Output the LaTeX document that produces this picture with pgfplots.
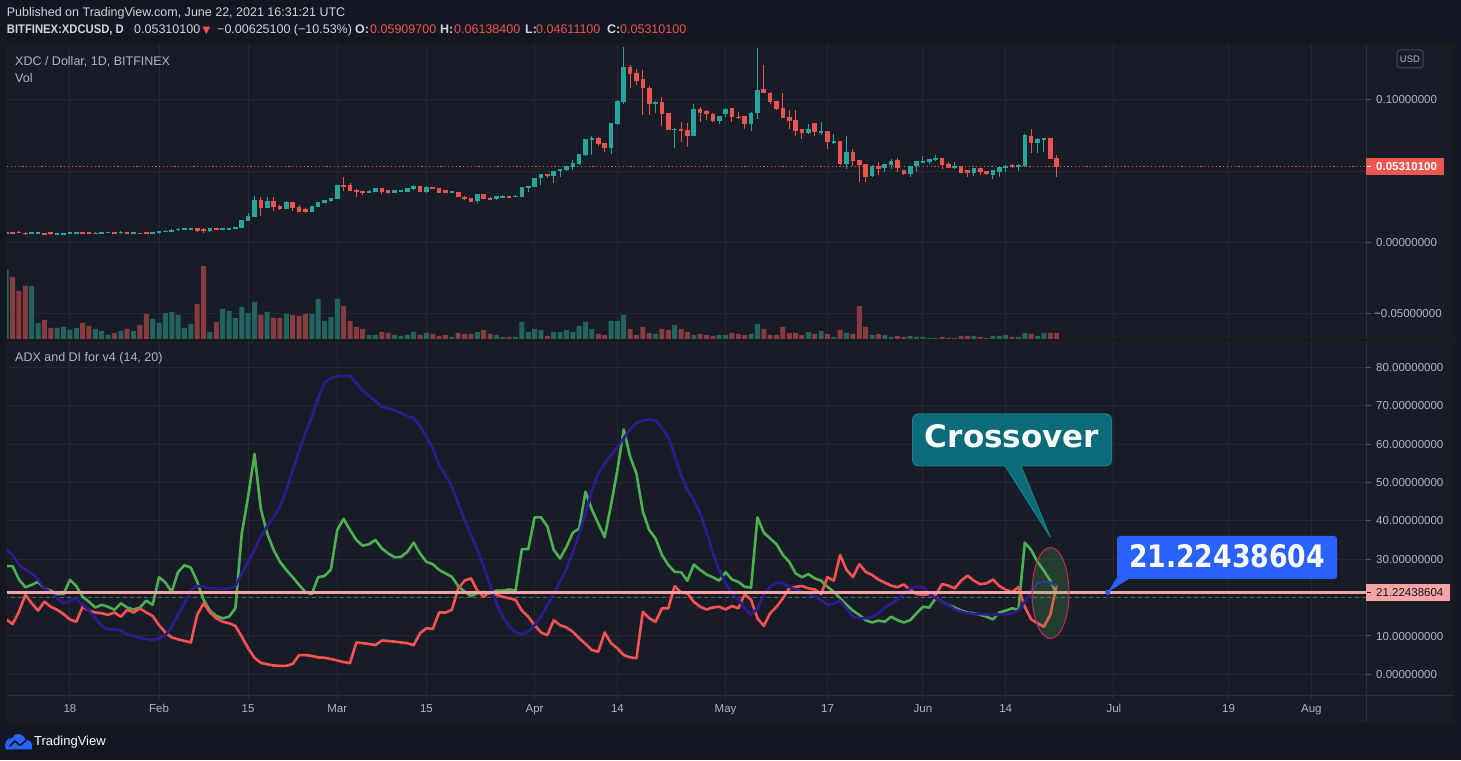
\documentclass[border=0pt]{standalone}
\usepackage{pgfplots}
\pgfplotsset{compat=1.18}
\usepackage{pgfplotstable}
\usepackage{fontspec}
\setmainfont{Liberation Sans}
\newfontfamily\dejavu{DejaVu Sans}
\usetikzlibrary{calc}

\definecolor{bgout}{HTML}{131722}
\definecolor{bgin}{HTML}{181C27}
\definecolor{gridc}{HTML}{242833}
\definecolor{sepc}{HTML}{2A2E39}
\definecolor{labc}{HTML}{B2B5BE}
\definecolor{headc}{HTML}{D1D4DC}
\definecolor{upc}{HTML}{26A69A}
\definecolor{dnc}{HTML}{EF5350}
\definecolor{volup}{HTML}{22635F}
\definecolor{voldn}{HTML}{863B3E}
\definecolor{pdic}{HTML}{4CAF50}
\definecolor{mdic}{HTML}{FF5252}
\definecolor{adxc}{HTML}{2E1A91}
\definecolor{pinkc}{HTML}{F5A3A3}
\definecolor{tvblue}{HTML}{2962FF}
\definecolor{callc}{HTML}{0B6B78}
\definecolor{callb}{HTML}{17808C}
\definecolor{redlab}{HTML}{F05650}
\definecolor{ellb}{HTML}{C8285A}

\pgfplotstableread{
d o h l c v
7 0.0066 0.0070 0.0063 0.0068 70
11 0.0058 0.0072 0.0056 0.0070 54
12 0.0067 0.0072 0.0063 0.0068 17
15 0.0056 0.0065 0.0054 0.0063 12
16 0.0058 0.0067 0.0056 0.0065 13
17 0.0063 0.0075 0.0061 0.0072 10
18 0.0065 0.0072 0.0063 0.0070 12
21 0.0061 0.0070 0.0058 0.0068 11
22 0.0065 0.0075 0.0063 0.0072 9
23 0.0069 0.0072 0.0067 0.0070 5
25 0.0063 0.0077 0.0061 0.0075 9
27 0.0063 0.0070 0.0061 0.0068 9
30 0.0063 0.0072 0.0061 0.0070 21
31 0.0063 0.0082 0.0061 0.0079 17
32 0.0072 0.0084 0.0070 0.0082 27
33 0.0075 0.0091 0.0072 0.0089 28
34 0.0084 0.0098 0.0082 0.0096 25
35 0.0091 0.0100 0.0089 0.0098 12
36 0.0093 0.0100 0.0091 0.0098 16
39 0.0077 0.0100 0.0075 0.0098 8
41 0.0086 0.0100 0.0084 0.0098 31
42 0.0091 0.0100 0.0089 0.0098 29
43 0.0096 0.0107 0.0093 0.0105 22
44 0.0103 0.0158 0.0100 0.0156 33
45 0.0149 0.0207 0.0147 0.0184 27
46 0.0179 0.0324 0.0177 0.0296 38
48 0.0242 0.0319 0.0240 0.0289 28
51 0.0233 0.0289 0.0231 0.0282 26
55 0.0214 0.0256 0.0212 0.0254 26
56 0.0249 0.0284 0.0247 0.0282 41
57 0.0277 0.0298 0.0275 0.0296 19
58 0.0287 0.0312 0.0284 0.0310 23
59 0.0303 0.0403 0.0301 0.0401 41
64 0.0347 0.0364 0.0345 0.0361 5
65 0.0354 0.0380 0.0352 0.0378 5
68 0.0347 0.0366 0.0345 0.0364 5
69 0.0359 0.0368 0.0357 0.0366 4
70 0.0354 0.0380 0.0352 0.0378 5
71 0.0371 0.0401 0.0368 0.0396 8
73 0.0354 0.0392 0.0343 0.0389 7
77 0.0350 0.0361 0.0347 0.0357 3
81 0.0291 0.0340 0.0277 0.0338 8
84 0.0301 0.0326 0.0298 0.0324 5
85 0.0315 0.0329 0.0312 0.0326 3
87 0.0319 0.0331 0.0317 0.0326 3
88 0.0319 0.0389 0.0317 0.0387 18
89 0.0387 0.0394 0.0354 0.0392 8
90 0.0389 0.0452 0.0387 0.0450 11
91 0.0452 0.0478 0.0401 0.0476 10
93 0.0466 0.0501 0.0417 0.0499 8
94 0.0499 0.0515 0.0459 0.0513 8
95 0.0506 0.0536 0.0503 0.0534 10
96 0.0529 0.0580 0.0510 0.0555 8
97 0.0548 0.0620 0.0545 0.0618 14
98 0.0611 0.0725 0.0608 0.0723 18
99 0.0716 0.0748 0.0611 0.0734 11
102 0.0662 0.0837 0.0620 0.0834 19
103 0.0828 0.0998 0.0825 0.0995 19
104 0.0988 0.1368 0.0972 0.1233 25
109 0.0970 0.0995 0.0907 0.0988 6
112 0.0790 0.0804 0.0662 0.0795 15
115 0.0746 0.0972 0.0743 0.0932 5
119 0.0851 0.0888 0.0832 0.0886 5
120 0.0900 0.0942 0.0879 0.0932 5
124 0.0830 0.0911 0.0781 0.0909 6
125 0.0907 0.1366 0.0865 0.1072 16
133 0.0767 0.0828 0.0760 0.0793 8
135 0.0774 0.0841 0.0751 0.0779 9
137 0.0702 0.0762 0.0690 0.0711 3
139 0.0548 0.0744 0.0515 0.0632 7
143 0.0464 0.0545 0.0459 0.0534 5
145 0.0522 0.0550 0.0494 0.0548 5
146 0.0543 0.0587 0.0517 0.0573 3
149 0.0480 0.0538 0.0459 0.0536 4
150 0.0536 0.0573 0.0494 0.0569 3
151 0.0564 0.0604 0.0562 0.0566 3
152 0.0564 0.0585 0.0550 0.0583 2
153 0.0580 0.0615 0.0571 0.0592 2
156 0.0522 0.0562 0.0513 0.0536 2
159 0.0487 0.0522 0.0466 0.0520 4
162 0.0473 0.0506 0.0445 0.0504 4
163 0.0492 0.0531 0.0459 0.0529 4
164 0.0524 0.0541 0.0494 0.0538 5
166 0.0529 0.0548 0.0501 0.0545 3
167 0.0534 0.0762 0.0531 0.0751 7
169 0.0697 0.0734 0.0627 0.0725 4
170 0.0718 0.0734 0.0634 0.0730 7
}\upData

\pgfplotstableread{
d o h l c v
8 0.0070 0.0072 0.0063 0.0065 63
9 0.0075 0.0077 0.0066 0.0068 49
10 0.0068 0.0070 0.0054 0.0056 54
13 0.0065 0.0067 0.0051 0.0058 20
14 0.0070 0.0072 0.0054 0.0056 12
19 0.0070 0.0072 0.0056 0.0063 17
20 0.0068 0.0070 0.0061 0.0063 14
24 0.0072 0.0075 0.0063 0.0065 7
26 0.0072 0.0075 0.0058 0.0061 11
28 0.0065 0.0068 0.0061 0.0063 15
29 0.0068 0.0070 0.0061 0.0063 26
37 0.0098 0.0100 0.0070 0.0079 36
38 0.0096 0.0098 0.0068 0.0079 74
40 0.0100 0.0103 0.0084 0.0086 18
47 0.0296 0.0319 0.0186 0.0242 25
49 0.0289 0.0315 0.0221 0.0249 22
50 0.0256 0.0261 0.0228 0.0233 22
52 0.0280 0.0282 0.0221 0.0242 25
53 0.0249 0.0259 0.0210 0.0214 24
54 0.0231 0.0238 0.0203 0.0210 26
60 0.0401 0.0457 0.0361 0.0389 34
61 0.0401 0.0413 0.0359 0.0361 19
62 0.0366 0.0371 0.0319 0.0354 13
63 0.0359 0.0361 0.0329 0.0350 11
66 0.0378 0.0380 0.0340 0.0350 8
67 0.0364 0.0366 0.0340 0.0343 7
72 0.0394 0.0396 0.0352 0.0354 5
74 0.0387 0.0389 0.0373 0.0375 6
75 0.0378 0.0380 0.0345 0.0347 4
76 0.0366 0.0368 0.0345 0.0347 5
78 0.0350 0.0352 0.0317 0.0319 7
79 0.0319 0.0322 0.0298 0.0301 6
80 0.0308 0.0310 0.0282 0.0284 6
82 0.0338 0.0340 0.0303 0.0305 10
83 0.0312 0.0315 0.0294 0.0296 6
86 0.0322 0.0324 0.0312 0.0317 3
92 0.0478 0.0480 0.0448 0.0469 4
100 0.0734 0.0736 0.0676 0.0690 6
101 0.0697 0.0699 0.0636 0.0662 5
105 0.1233 0.1247 0.1082 0.1179 11
106 0.1186 0.1219 0.1105 0.1131 5
107 0.1149 0.1212 0.0893 0.1082 13
108 0.1086 0.1100 0.0893 0.0967 7
110 0.0988 0.1023 0.0814 0.0900 11
111 0.0904 0.0907 0.0785 0.0788 10
113 0.0795 0.0841 0.0704 0.0779 11
114 0.0788 0.0834 0.0669 0.0746 8
116 0.0932 0.0949 0.0844 0.0907 6
117 0.0921 0.0930 0.0860 0.0900 5
118 0.0902 0.0904 0.0844 0.0851 4
121 0.0939 0.0942 0.0844 0.0879 7
122 0.0881 0.0911 0.0865 0.0876 6
123 0.0883 0.0886 0.0797 0.0830 5
126 0.1079 0.1247 0.1045 0.1047 11
127 0.1051 0.1053 0.0972 0.0984 5
128 0.0993 0.0995 0.0930 0.0932 5
129 0.0939 0.1047 0.0870 0.0872 13
130 0.0876 0.0925 0.0797 0.0848 7
131 0.0855 0.0925 0.0746 0.0781 7
132 0.0793 0.0795 0.0725 0.0767 5
134 0.0834 0.0837 0.0746 0.0774 6
136 0.0779 0.0781 0.0657 0.0704 6
138 0.0709 0.0711 0.0545 0.0548 10
140 0.0632 0.0653 0.0536 0.0571 6
141 0.0576 0.0578 0.0420 0.0543 34
142 0.0548 0.0550 0.0420 0.0457 13
144 0.0536 0.0562 0.0471 0.0515 6
147 0.0576 0.0590 0.0494 0.0522 4
148 0.0506 0.0508 0.0471 0.0478 3
154 0.0592 0.0594 0.0513 0.0543 3
155 0.0548 0.0562 0.0520 0.0522 2
157 0.0534 0.0536 0.0485 0.0487 4
158 0.0506 0.0508 0.0459 0.0487 4
160 0.0520 0.0522 0.0473 0.0492 3
161 0.0499 0.0501 0.0469 0.0480 2
165 0.0541 0.0552 0.0522 0.0529 3
168 0.0744 0.0797 0.0627 0.0697 6
171 0.0730 0.0732 0.0583 0.0587 7
172 0.0591 0.0614 0.0461 0.0531 7
}\dnData

\pgfplotstableread{
d pdi mdi adx
7 28.2 14.3 32.6
8 28.2 13.1 31.1
9 24.7 16.3 28.5
10 22.7 20.7 27.3
11 23.3 18.5 26.3
12 24.1 16.6 24.7
13 22.4 18.9 22.4
14 21.8 17.6 21.3
15 20.9 16.8 19.8
16 20.9 15.7 18.5
17 24.6 14.3 19.2
18 23.0 13.7 19.8
19 20.2 17.6 18.1
20 18.9 16.6 16.6
21 17.4 16.1 14.6
22 18.1 15.9 12.6
23 17.6 15.5 11.7
24 16.8 16.1 11.7
25 18.5 15.0 11.5
26 17.4 16.8 10.4
27 16.9 16.1 10.0
28 17.4 17.2 9.5
29 19.2 16.1 9.2
30 18.1 15.2 8.9
31 25.3 12.8 9.4
32 23.9 10.9 10.2
33 21.5 9.6 12.4
34 26.7 9.1 15.5
35 28.4 8.7 18.5
36 27.8 8.3 22.0
37 24.1 15.5 23.0
38 19.4 18.5 22.8
39 16.6 16.1 22.4
40 15.2 14.6 22.3
41 14.6 13.7 22.2
42 15.0 13.3 22.4
43 17.2 12.6 23.0
44 36.7 9.8 26.3
45 46.3 6.8 29.3
46 57.4 4.3 32.4
47 43.0 3.0 35.9
48 36.7 2.6 38.6
49 32.4 2.3 41.1
50 29.3 2.2 43.7
51 27.2 2.2 48.0
52 25.3 2.7 53.2
53 23.3 5.0 58.0
54 21.4 5.0 62.8
55 20.9 4.8 67.1
56 25.3 4.4 71.9
57 25.6 4.3 76.0
58 27.3 4.0 77.1
59 37.6 3.6 77.7
60 40.5 3.2 77.7
61 37.6 2.9 77.8
62 35.0 8.3 75.8
63 33.5 8.1 74.0
64 33.9 7.9 72.5
65 35.0 7.6 71.2
66 32.8 8.8 69.7
67 31.5 8.7 69.3
68 30.5 8.5 68.8
69 30.6 8.3 68.1
70 31.9 8.1 67.3
71 34.3 7.6 66.7
72 31.5 10.7 64.7
73 29.3 12.0 61.9
74 28.7 11.8 58.9
75 27.2 16.1 54.5
76 26.3 16.1 51.9
77 25.4 16.8 48.9
78 23.0 22.4 44.5
79 21.5 24.4 40.2
80 20.4 25.0 36.3
81 21.1 21.8 32.4
82 21.5 20.2 28.0
83 21.1 21.5 23.3
84 21.8 20.7 18.5
85 21.8 20.2 15.0
86 22.1 19.8 12.5
87 21.8 19.4 10.9
88 32.6 16.6 10.5
89 32.6 15.0 11.1
90 40.9 12.8 12.8
91 40.9 10.9 15.0
92 38.5 10.2 18.1
93 32.4 14.1 21.1
94 30.2 12.8 24.1
95 33.2 12.2 27.6
96 36.9 11.1 31.7
97 38.0 9.4 36.7
98 47.6 7.9 41.9
99 42.9 6.3 48.0
100 39.3 5.9 52.3
101 35.7 10.9 54.9
102 44.1 8.1 57.1
103 53.2 6.8 59.3
104 63.8 5.0 61.5
105 56.7 4.4 63.8
106 52.3 4.2 65.5
107 42.4 16.3 66.1
108 37.6 14.6 66.4
109 35.4 13.7 66.2
110 31.1 17.2 64.3
111 28.5 17.2 61.7
112 26.7 23.0 57.1
113 26.6 21.3 51.9
114 24.4 21.1 48.0
115 28.6 18.9 45.4
116 27.2 17.6 41.9
117 26.0 16.9 37.2
118 25.3 17.4 31.5
119 24.4 17.6 27.2
120 26.6 16.9 23.7
121 24.7 17.8 21.1
122 24.1 17.2 19.4
123 22.8 20.9 17.2
124 22.6 19.4 15.5
125 40.9 14.6 17.2
126 36.9 12.6 20.7
127 35.4 15.9 22.8
128 33.9 17.6 23.9
129 31.1 19.8 23.7
130 29.3 22.4 22.8
131 26.3 22.8 22.1
132 25.3 23.0 21.5
133 26.1 22.4 20.9
134 25.0 22.1 20.2
135 24.4 20.9 19.4
136 22.8 25.3 18.1
137 21.5 24.4 18.4
138 19.8 31.1 19.2
139 18.1 27.2 17.2
140 16.6 25.3 15.0
141 15.5 28.7 14.6
142 14.1 26.7 14.6
143 13.5 25.9 15.0
144 14.0 24.7 15.9
145 13.7 23.9 17.4
146 15.0 23.1 18.4
147 14.1 22.7 19.5
148 13.5 23.4 21.1
149 14.1 22.0 22.4
150 15.9 20.9 22.8
151 17.6 20.7 22.7
152 17.4 20.9 21.1
153 19.8 20.7 19.8
154 18.9 23.5 18.9
155 18.1 23.1 18.1
156 17.4 22.4 16.9
157 16.6 24.4 16.3
158 16.1 25.7 15.9
159 15.9 24.4 15.7
160 15.5 23.5 15.7
161 15.0 23.7 15.6
162 14.3 24.7 15.5
163 16.1 23.0 15.6
164 16.6 22.0 15.7
165 17.2 21.4 15.9
166 16.8 22.7 16.6
167 34.3 17.6 18.9
168 32.4 14.3 21.5
169 29.3 13.3 23.7
170 27.0 12.4 24.1
171 24.4 15.5 23.9
172 20.9 23.3 23.0
}\adxData

\pgfplotsset{
  tvaxis/.style={scale only axis, width=1359pt, xmin=7.12, xmax=220.6,
    anchor=south west, axis line style={draw=none}, major tick length=0pt,
    xticklabels={}, yticklabels={}, clip=true},
}

\begin{document}
\begin{tikzpicture}[x=1pt,y=1pt]
\path[use as bounding box] (0pt,0pt) rectangle (1461pt,760pt);
\fill[bgout] (0,0) rectangle (1461,760);
\fill[bgin] (6.5,37) rectangle (1455,717);

% ---------- price pane: grid ----------
\begin{axis}[tvaxis, at={(7pt,420pt)}, height=297pt, ymin=-0.06856, ymax=0.13986,
  xtick={17,31,45,59,73,90,103,120,136,151,164,181,199,212},
  ytick={-0.05,0,0.05,0.1}, grid=major, major grid style={gridc, line width=1pt}]
\addplot[dnc, dash pattern=on 1.2pt off 2.6pt, line width=1.1pt] coordinates {(0,0.05310) (230,0.05310)};
\end{axis}

% ---------- volume ----------
\begin{axis}[tvaxis, at={(7pt,420pt)}, height=297pt, ymin=0, ymax=297, xtick=\empty, ytick=\empty]
\addplot[ybar, bar shift=0pt, bar width=5pt, fill=volup, draw=none] table[x=d,y=v]{\upData};
\addplot[ybar, bar shift=0pt, bar width=5pt, fill=voldn, draw=none] table[x=d,y=v]{\dnData};
\end{axis}

% ---------- candles ----------
\begin{axis}[tvaxis, at={(7pt,420pt)}, height=297pt, ymin=-0.06856, ymax=0.13986, xtick=\empty, ytick=\empty]
\addplot[draw=none, mark=none, error bars/.cd, y dir=both, y explicit, error mark=none,
  error bar style={draw=upc, line width=1pt}]
  table[x=d, y expr={(\thisrow{h}+\thisrow{l})/2}, y error expr={(\thisrow{h}-\thisrow{l})/2}]{\upData};
\addplot[draw=none, mark=none, error bars/.cd, y dir=both, y explicit, error mark=none,
  error bar style={draw=dnc, line width=1pt}]
  table[x=d, y expr={(\thisrow{h}+\thisrow{l})/2}, y error expr={(\thisrow{h}-\thisrow{l})/2}]{\dnData};
\addplot[draw=none, mark=none, error bars/.cd, y dir=both, y explicit, error mark=none,
  error bar style={draw=upc, line width=4.6pt}]
  table[x=d, y expr={(\thisrow{o}+\thisrow{c})/2}, y error expr={max(abs(\thisrow{c}-\thisrow{o})/2,0.00035)}]{\upData};
\addplot[draw=none, mark=none, error bars/.cd, y dir=both, y explicit, error mark=none,
  error bar style={draw=dnc, line width=4.6pt}]
  table[x=d, y expr={(\thisrow{o}+\thisrow{c})/2}, y error expr={max(abs(\thisrow{c}-\thisrow{o})/2,0.00035)}]{\dnData};
\end{axis}

% ---------- ADX pane ----------
\begin{axis}[tvaxis, at={(7pt,64.3pt)}, height=354.7pt, ymin=-5.577, ymax=86.85,
  xtick={17,31,45,59,73,90,103,120,136,151,164,181,199,212},
  ytick={0,10,20,30,40,50,60,70,80}, grid=major, major grid style={gridc, line width=1pt}]
\addplot[color=labc!45!bgin, dash pattern=on 4pt off 3pt, line width=1pt] coordinates {(0,20) (230,20)};
\addplot[pdic, line width=2.6pt, line join=round] table[x=d,y=pdi]{\adxData};
\addplot[mdic, line width=2.6pt, line join=round] table[x=d,y=mdi]{\adxData};
\addplot[adxc, line width=2.6pt, line join=round] table[x=d,y=adx]{\adxData};
\addplot[pinkc, line width=3pt] coordinates {(0,21.2244) (230,21.2244)};
\end{axis}

% ---------- frame and separators ----------
\draw[sepc, line width=1pt] (1366,37) -- (1366,717);
\draw[sepc, line width=1pt] (6.5,64.3) -- (1455,64.3);
\draw[black!90, line width=1.5pt] (6.5,420) -- (1455,420);
\draw[black!90, line width=1.5pt] (6.5,37) rectangle (1455,717);
\foreach \x in {69.9,159.0,248.1,337.3,426.4,534.6,617.4,725.6,827.5,922.9,1005.7,1113.9,1228.5,1311.3}
  \draw[sepc, line width=1pt] (\x,64.3) -- (\x,60.5);

% ---------- time labels ----------
\foreach \x/\t in {69.9/18,159.0/Feb,248.1/15,337.3/Mar,426.4/15,534.6/Apr,617.4/14,725.6/May,827.5/17,922.9/Jun,1005.7/14,1113.9/Jul,1228.5/19,1311.3/Aug}
  \node[anchor=base, text=labc, inner sep=0, font=\fontsize{11.5}{13}\selectfont] at (\x,47.3) {\t};

% ---------- header ----------
\node[anchor=base west, text=headc, inner sep=0, font=\fontsize{12.5}{14}\selectfont] at (6.7,743.3)
  {Published on TradingView.com, June 22, 2021 16:31:21 UTC};
\begin{scope}[every node/.style={anchor=base west, inner sep=0, font=\fontsize{12.5}{14}\selectfont}]
\node[text=headc, font=\fontsize{12.5}{14}\selectfont\bfseries] at (6.7,726.7) {\scalebox{0.9}[1]{BITFINEX:XDCUSD, D}};
\node[text=headc] at (134,726.7) {0.05310100};
\node[text=dnc, font=\fontsize{10}{12}\dejavu] at (202.5,726.9) {▼};
\node[text=headc] at (217,726.7) {−0.00625100 (−10.53\%)};
\node[text=headc, font=\fontsize{12.5}{14}\selectfont\bfseries] at (355,726.7) {O:};
\node[text=dnc] at (370,726.7) {0.05909700};
\node[text=headc, font=\fontsize{12.5}{14}\selectfont\bfseries] at (440,726.7) {H:};
\node[text=dnc] at (454,726.7) {0.06138400};
\node[text=headc, font=\fontsize{12.5}{14}\selectfont\bfseries] at (525,726.7) {L:};
\node[text=dnc] at (536,726.7) {0.04611100};
\node[text=headc, font=\fontsize{12.5}{14}\selectfont\bfseries] at (607,726.7) {C:};
\node[text=dnc] at (620,726.7) {0.05310100};
\end{scope}

% ---------- pane titles ----------
\begin{scope}[every node/.style={anchor=base west, inner sep=0, text=labc, font=\fontsize{12.5}{14}\selectfont}]
\node at (15,694.3) {XDC / Dollar, 1D, BITFINEX};
\node at (15,677.7) {Vol};
\node at (15,398.7) {ADX and DI for v4 (14, 20)};
\end{scope}

% ---------- right scale ----------
\begin{scope}[every node/.style={anchor=base west, inner sep=0, text=labc, font=\fontsize{11.5}{13}\selectfont}]
\node at (1376,656.5) {0.10000000};
\node at (1376,513.5) {0.00000000};
\node at (1374,442.5) {−0.05000000};
\foreach \y in {80,70,60,50,40,30,10,0}
  \node at (1376,{81.5+3.8375*\y}) {\y.00000000};
\end{scope}
\foreach \y in {660.7,517.7,446.7}
  \draw[sepc!70!labc, line width=1pt] (1366,\y) -- (1371,\y);
\foreach \y in {80,70,60,50,40,30,10,0}
  \draw[sepc!70!labc, line width=1pt] (1366,{85.7+3.8375*\y}) -- (1371,{85.7+3.8375*\y});
\draw[sepc!80!labc, rounded corners=3pt, line width=1pt] (1397,692) rectangle (1423,710);
\node[text=labc, inner sep=0, font=\fontsize{9.5}{11}\selectfont] at (1410,701) {USD};
\fill[redlab] (1366,585) rectangle (1444,601.7);
\draw[white, line width=1pt] (1367,593.4) -- (1371,593.4);
\node[anchor=base west, inner sep=0, text=white, font=\fontsize{11.5}{13}\selectfont\bfseries] at (1376,589.1) {0.05310100};
\fill[pinkc] (1366,159.3) rectangle (1450,175.7);
\draw[bgout, line width=1pt] (1367,167.5) -- (1371,167.5);
\node[anchor=base west, inner sep=0, text=bgout, font=\fontsize{11.5}{13}\selectfont] at (1376,163.3) {21.22438604};

% ---------- annotations ----------
\filldraw[fill=pdic, fill opacity=0.22, draw=ellb, line width=1pt] (1050.5,167) ellipse [x radius=18.5, y radius=45.5];
\filldraw[fill=callc, draw=callb, line width=1pt]
  (912.5,320) [rounded corners=6pt]-- (912.5,346) -- (1111.7,346) -- (1111.7,294)
  [sharp corners]-- (1021,294) -- (1050.3,223) -- (1005,294)
  [rounded corners=6pt]-- (912.5,294) -- cycle;
\node[anchor=base, inner sep=0, text=white, font={\fontsize{31}{34}\dejavu\bfseries}] at (1012,312) {Crossover};
\fill[tvblue] (1107.7,167.7) -- (1116.7,182) -- (1130,182) -- cycle;
\fill[tvblue, rounded corners=3pt] (1117,181) rectangle (1337,224);
\fill[tvblue] (1107.7,167.7) circle (2.6);
\node[anchor=base, inner sep=0, text=white, font={\fontsize{31}{34}\dejavu\bfseries}] at (1227,192.3) {\scalebox{0.86}[1]{21.22438604}};

% ---------- footer ----------
\fill[tvblue] (6,10.7) -- (31.5,10.7) .. controls (34,16) and (30,21) .. (25.5,20)
  .. controls (23,27.5) and (14,28) .. (12.5,22) .. controls (6,23) and (3.5,15) .. (6,10.7) -- cycle;
\draw[bgout, line width=1.6pt, line join=round] (9.5,13.5) -- (15,19) -- (20,14.5) -- (26,19.5);
\node[anchor=base west, inner sep=0, text=white, font=\fontsize{13}{15}\selectfont] at (34,14) {TradingView};
\end{tikzpicture}
\end{document}
